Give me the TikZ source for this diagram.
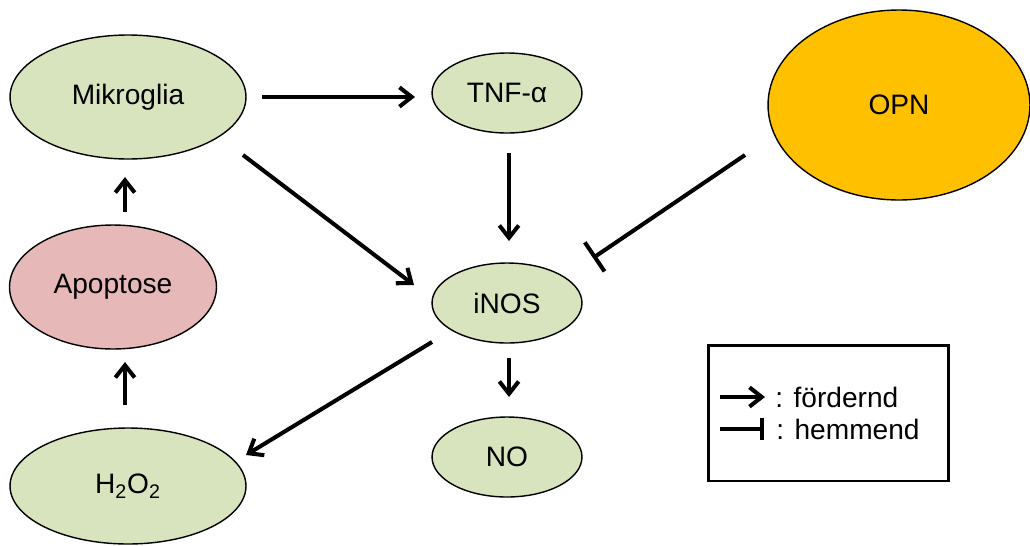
\documentclass[tikz,border=0pt]{standalone}
\usepackage{fontspec}
\setmainfont{Liberation Sans}
\usetikzlibrary{arrows.meta,shapes.geometric,calc}
\definecolor{cellgreen}{HTML}{D7E4BD}
\definecolor{cellpink}{HTML}{E6B9B8}
\definecolor{opnorange}{HTML}{FFC000}
\tikzset{
  cell/.style={ellipse, draw=black, line width=0.8pt, inner sep=0pt,
               font=\fontsize{16}{19}\selectfont},
  arr/.style={line width=2.3pt, -{Straight Barb[length=7pt,width=11pt,line width=2.3pt]}},
  inhib/.style={line width=2.3pt, -{Bar[width=20pt,line width=2.3pt]}},
  legendtext/.style={anchor=west, inner sep=0pt, font=\fontsize{16}{19}\selectfont},
}
\begin{document}
\begin{tikzpicture}[x=0.02cm,y=-0.02cm]
\useasboundingbox (0,0) rectangle (1030,545);

% cells and mediators
\node[cell, fill=cellgreen, minimum width=4.72cm, minimum height=2.48cm] (mik) at (128,97) {Mikroglia};
\node[cell, fill=cellgreen, minimum width=3.0cm, minimum height=1.6cm] (tnf) at (507,93) {TNF-α};
\node[cell, fill=opnorange, minimum width=5.24cm, minimum height=3.8cm] (opn) at (899,105) {OPN};
\node[cell, fill=cellpink, minimum width=4.14cm, minimum height=2.48cm] (apo) at (113,287) {Apoptose};
\node[cell, fill=cellgreen, minimum width=3.0cm, minimum height=1.6cm] (inos) at (507,303) {iNOS};
\node[cell, fill=cellgreen, minimum width=3.0cm, minimum height=1.6cm] (no) at (507,457) {NO};
\node[cell, fill=cellgreen, minimum width=4.72cm, minimum height=2.32cm] (hoo) at (128,486) {H\textsubscript{2}O\textsubscript{2}};

% promoting and inhibiting effects
\draw[arr] ($(mik)+(134,0)$) -- ($(tnf)+(-92,4)$);
\draw[arr] ($(tnf)+(2,60)$) -- ($(inos)+(2,-62)$);
\draw[arr] ($(mik)+(115,58)$) -- ($(inos)+(-93,-18)$);
\draw[arr] ($(inos)+(2,55)$) -- ($(no)+(2,-60)$);
\draw[arr] ($(inos)+(-75,39)$) -- ($(hoo)+(118,-31)$);
\draw[arr] ($(hoo)+(-3,-81)$) -- ($(apo)+(12,75)$);
\draw[arr] ($(apo)+(12,-75)$) -- ($(mik)+(-3,80)$);
\draw[inhib] ($(opn)+(-154,50)$) -- ($(inos)+(86,-45)$);

% legend
\node[draw=black, line width=1.7pt, minimum width=4.82cm, minimum height=2.72cm, inner sep=0pt] (legend) at (828.5,413) {};
\coordinate (la) at (720,397);
\coordinate (lb) at (720,429);
\draw[arr] (la) -- ++(45,0) coordinate (laend);
\node[legendtext] at ($(laend)+(10,0)$) {: fördernd};
\draw[line width=2.3pt] (lb) -- ++(42,0) coordinate (lbend);
\draw[line width=2.3pt] ($(lbend)+(0,-11)$) -- ($(lbend)+(0,11)$);
\node[legendtext] at ($(lbend)+(14,0)$) {: hemmend};
\end{tikzpicture}
\end{document}
